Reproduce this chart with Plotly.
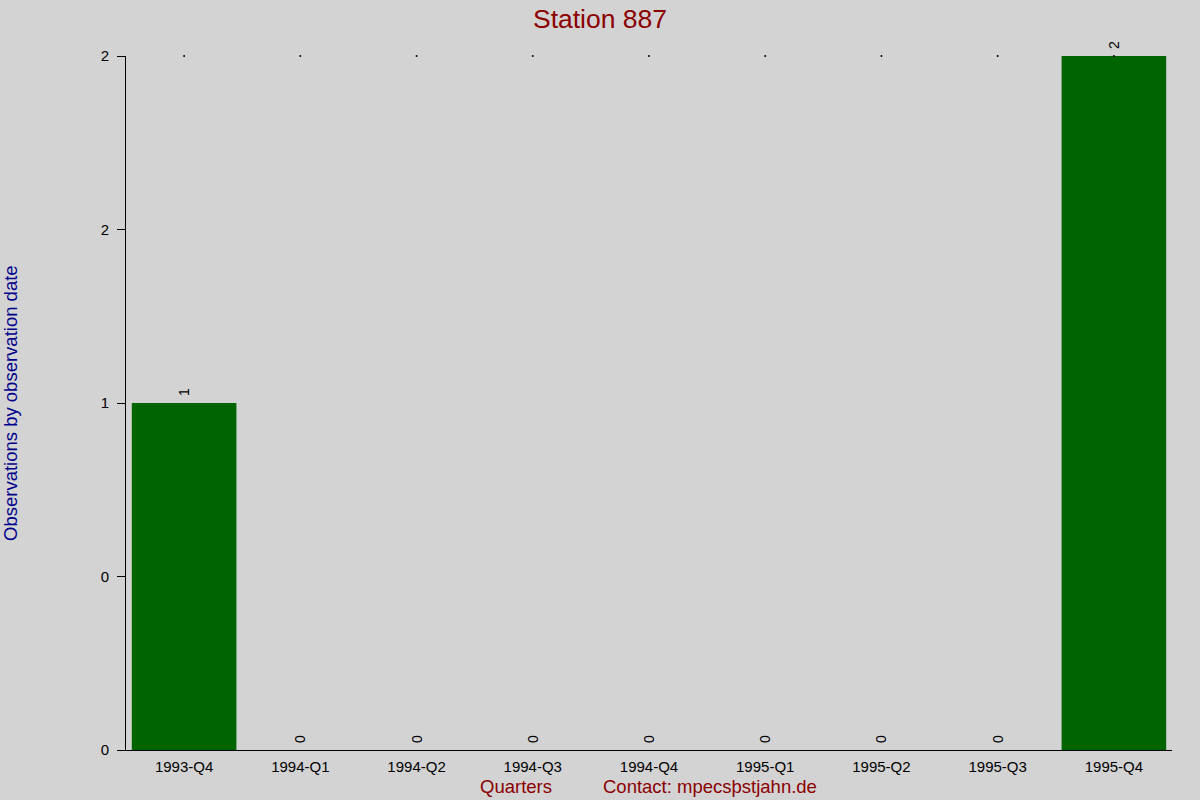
import plotly.graph_objs as go

quarters = ['1993-Q4', '1994-Q1', '1994-Q2', '1994-Q3', '1994-Q4',
            '1995-Q1', '1995-Q2', '1995-Q3', '1995-Q4']
counts = [1, 0, 0, 0, 0, 0, 0, 0, 2]

y_ticks = [0, 0.5, 1, 1.5, 2]
y_tick_labels = ['0', '0', '1', '2', '2']

fig = go.Figure()
fig.add_trace(go.Bar(x=quarters, y=counts, marker=dict(color='#006400', line=dict(width=0)),
                     text=['\u00a0' + str(c) for c in counts], textposition='outside',
                     textangle=-90, textfont=dict(color='black', size=14),
                     cliponaxis=False, width=0.9))
# kleine Punkte oben an jeder Kategorie
fig.add_trace(go.Scatter(x=quarters, y=[max(counts)] * len(quarters), mode='markers',
                         marker=dict(size=2, color='black'), cliponaxis=False,
                         hoverinfo='skip'))

fig.update_layout(
    width=1200, height=800,
    paper_bgcolor='#D3D3D3', plot_bgcolor='#D3D3D3',
    font=dict(family='Liberation Sans, Arial', size=15, color='black'),
    showlegend=False,
    margin=dict(l=126, r=28, t=56, b=50),
    title=dict(text='Station 887', x=0.5, xanchor='center', y=0.977, yanchor='middle',
               font=dict(size=26.5, color='#8B0000')),
    xaxis=dict(showgrid=False, showline=True, linecolor='black', linewidth=1,
               ticks='outside', ticklen=3, tickcolor='rgba(0,0,0,0)',
               tickfont=dict(size=15), zeroline=False),
    yaxis=dict(range=[0, 2], tickvals=y_ticks, ticktext=y_tick_labels, showgrid=False,
               showline=True, linecolor='black', linewidth=1, ticks='outside',
               ticklen=8, tickcolor='black', zeroline=False, tickfont=dict(size=15),
               ticklabelstandoff=5),
)

fig.add_annotation(text='Observations by observation date', xref='paper', yref='paper',
                   x=(10 - 126) / 1046, y=0.5, xanchor='center', yanchor='middle',
                   textangle=-90, showarrow=False, font=dict(size=18.5, color='#00008B'))
fig.add_annotation(text='Quarters', xref='paper', yref='paper', x=(516 - 126) / 1046,
                   y=(750 - 786) / 694, xanchor='center', yanchor='middle', showarrow=False,
                   font=dict(size=18.5, color='#8B0000'))
fig.add_annotation(text='Contact: mpecsϸstjahn.de', xref='paper', yref='paper',
                   x=(710 - 126) / 1046, y=(750 - 786) / 694, xanchor='center',
                   yanchor='middle', showarrow=False, font=dict(size=18.5, color='#8B0000'))

fig.write_html("out.html", config={'displayModeBar': False},
               post_script="document.body.style.margin='0';")
